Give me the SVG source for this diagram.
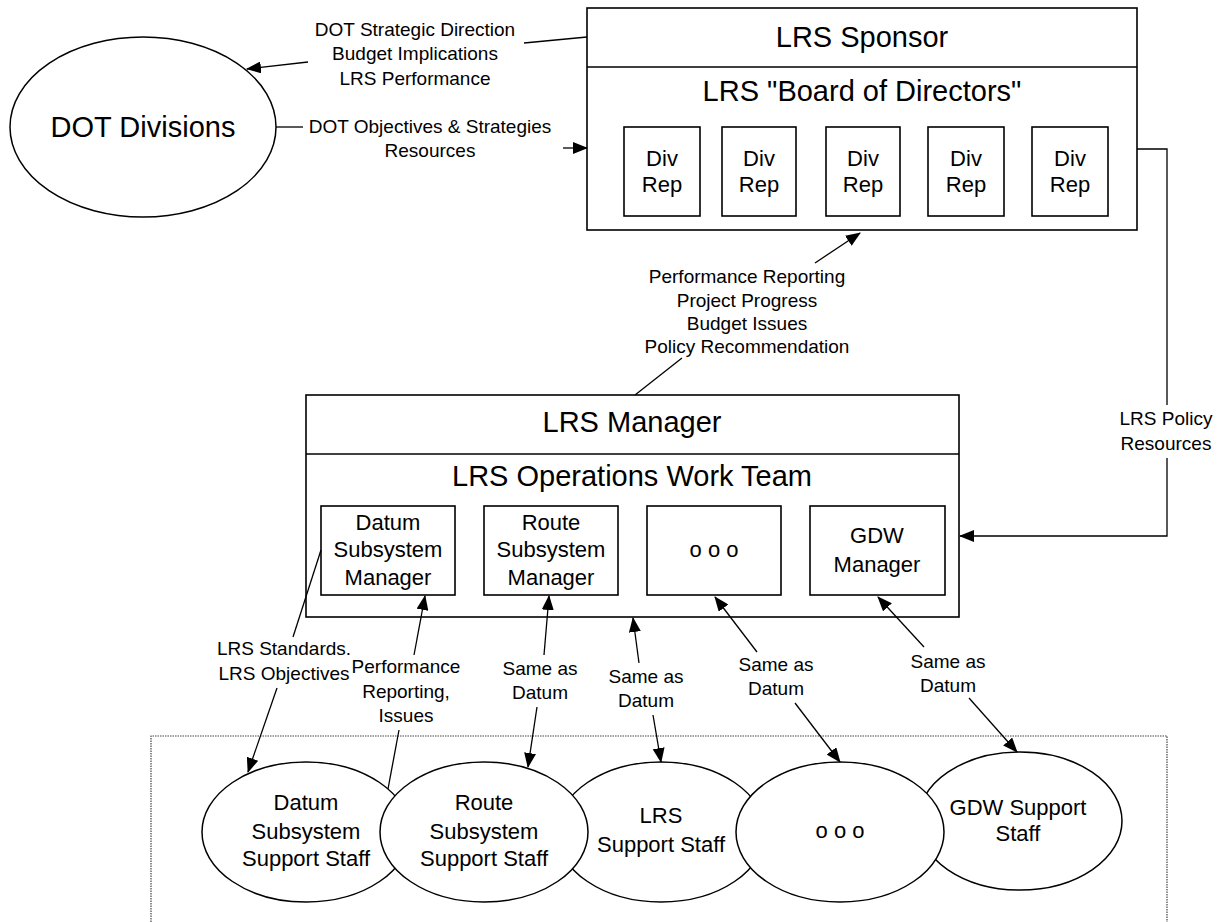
<svg xmlns="http://www.w3.org/2000/svg" width="1220" height="922" viewBox="0 0 1220 922">
<defs>
<marker id="ah" markerUnits="userSpaceOnUse" markerWidth="15" markerHeight="12" viewBox="0 0 15 12" refX="14" refY="6" orient="auto">
<path d="M0,0 L15,6 L0,12 z" fill="#000"/>
</marker>
<style>
text{font-family:"Liberation Sans",Arial,sans-serif;fill:#000;text-anchor:middle}
.t{font-size:29px}
.s{font-size:22px}
.l{font-size:19px}
.box{fill:#fff;stroke:#000;stroke-width:1.6}
.ell{fill:#fff;stroke:#000;stroke-width:1.5}
.c{fill:none;stroke:#000;stroke-width:1.3}
.a{fill:none;stroke:#000;stroke-width:1.3;marker-end:url(#ah)}
.dot{fill:none;stroke:#444;stroke-width:1.2;stroke-dasharray:1.5 1}
</style>
</defs>
<rect width="1220" height="922" fill="#fff"/>

<g id="support-area">
<path class="dot" d="M151,922 V736 H1167 V922"/>
</g>

<g id="dot-divisions">
<ellipse class="ell" cx="143" cy="127" rx="133" ry="90"/>
<text class="t" x="143" y="137">DOT Divisions</text>
</g>

<g id="lrs-sponsor">
<rect class="box" x="587" y="8" width="550" height="222"/>
<line x1="587" y1="67" x2="1137" y2="67" stroke="#000" stroke-width="1.6"/>
<text class="t" x="862" y="47">LRS Sponsor</text>
<text class="t" x="862" y="101">LRS "Board of Directors"</text>
</g>
<g id="div-rep-1"><rect class="box" x="624" y="127" width="76" height="89"/><text class="s" x="662" y="166">Div</text><text class="s" x="662" y="192">Rep</text></g>
<g id="div-rep-2"><rect class="box" x="722" y="127" width="74" height="89"/><text class="s" x="759" y="166">Div</text><text class="s" x="759" y="192">Rep</text></g>
<g id="div-rep-3"><rect class="box" x="826" y="127" width="74" height="89"/><text class="s" x="863" y="166">Div</text><text class="s" x="863" y="192">Rep</text></g>
<g id="div-rep-4"><rect class="box" x="928" y="127" width="76" height="89"/><text class="s" x="966" y="166">Div</text><text class="s" x="966" y="192">Rep</text></g>
<g id="div-rep-5"><rect class="box" x="1032" y="127" width="76" height="89"/><text class="s" x="1070" y="166">Div</text><text class="s" x="1070" y="192">Rep</text></g>

<g id="lrs-manager">
<rect class="box" x="306" y="395" width="653" height="222"/>
<line x1="306" y1="454" x2="959" y2="454" stroke="#000" stroke-width="1.6"/>
<text class="t" x="632" y="432">LRS Manager</text>
<text class="t" x="632" y="486">LRS Operations Work Team</text>
</g>
<g id="datum-manager"><rect class="box" x="321" y="506" width="134" height="89"/>
<text class="s" x="388" y="530">Datum</text><text class="s" x="388" y="557">Subsystem</text><text class="s" x="388" y="585">Manager</text></g>
<g id="route-manager"><rect class="box" x="484" y="506" width="134" height="89"/>
<text class="s" x="551" y="530">Route</text><text class="s" x="551" y="557">Subsystem</text><text class="s" x="551" y="585">Manager</text></g>
<g id="other-manager"><rect class="box" x="647" y="506" width="134" height="89"/>
<text class="s" x="714" y="557">o o o</text></g>
<g id="gdw-manager"><rect class="box" x="810" y="506" width="135" height="89"/>
<text class="s" x="877" y="543">GDW</text><text class="s" x="877" y="572">Manager</text></g>

<g id="datum-staff"><ellipse class="ell" cx="306" cy="832" rx="104" ry="70"/>
<text class="s" x="306" y="810">Datum</text><text class="s" x="306" y="839">Subsystem</text><text class="s" x="306" y="866">Support Staff</text></g>
<g id="lrs-staff"><ellipse class="ell" cx="661" cy="832" rx="104" ry="70"/>
<text class="s" x="661" y="823">LRS</text><text class="s" x="661" y="852">Support Staff</text></g>
<g id="gdw-staff"><ellipse class="ell" cx="1020" cy="821" rx="102" ry="69"/>
<text class="s" x="1018" y="815">GDW Support</text><text class="s" x="1018" y="841">Staff</text></g>
<g id="route-staff"><ellipse class="ell" cx="484" cy="832" rx="104" ry="70"/>
<text class="s" x="484" y="810">Route</text><text class="s" x="484" y="839">Subsystem</text><text class="s" x="484" y="866">Support Staff</text></g>
<g id="other-staff"><ellipse class="ell" cx="840" cy="832" rx="104" ry="70"/>
<text class="s" x="840" y="838">o o o</text></g>

<g id="connectors">
<line class="c" x1="524" y1="43" x2="587" y2="37"/>
<line class="a" x1="308" y1="62" x2="247" y2="69"/>
<line class="c" x1="276" y1="127" x2="303" y2="127"/>
<line class="a" x1="563" y1="148" x2="587" y2="148"/>
<line class="a" x1="815" y1="263" x2="860" y2="233"/>
<line class="c" x1="682" y1="358" x2="635" y2="395"/>
<polyline class="c" points="1137,149 1167,149 1167,405"/>
<polyline class="a" points="1167,458 1167,536 960,536"/>
<line class="c" x1="321" y1="550" x2="293" y2="637"/>
<line class="a" x1="277" y1="688" x2="248" y2="772"/>
<line class="a" x1="414" y1="655" x2="425" y2="596"/>
<line class="c" x1="399" y1="730" x2="388" y2="789"/>
<line class="a" x1="544" y1="655" x2="549" y2="596"/>
<line class="a" x1="537" y1="707" x2="528" y2="767"/>
<line class="a" x1="639" y1="663" x2="633" y2="618"/>
<line class="a" x1="653" y1="715" x2="661" y2="762"/>
<line class="a" x1="757" y1="652" x2="715" y2="597"/>
<line class="a" x1="795" y1="703" x2="840" y2="762"/>
<line class="a" x1="924" y1="647" x2="878" y2="597"/>
<line class="a" x1="969" y1="698" x2="1017" y2="752"/>
</g>

<g id="labels">
<text class="l" x="415" y="36">DOT Strategic Direction</text>
<text class="l" x="415" y="60">Budget Implications</text>
<text class="l" x="415" y="85">LRS Performance</text>
<text class="l" x="430" y="133">DOT Objectives &amp; Strategies</text>
<text class="l" x="430" y="157">Resources</text>
<text class="l" x="747" y="283">Performance Reporting</text>
<text class="l" x="747" y="307">Project Progress</text>
<text class="l" x="747" y="330">Budget Issues</text>
<text class="l" x="747" y="353">Policy Recommendation</text>
<text class="l" x="1166" y="425">LRS Policy</text>
<text class="l" x="1166" y="450">Resources</text>
<text class="l" x="284" y="655">LRS Standards.</text>
<text class="l" x="284" y="680">LRS Objectives</text>
<text class="l" x="406" y="673">Performance</text>
<text class="l" x="406" y="698">Reporting,</text>
<text class="l" x="406" y="722">Issues</text>
<text class="l" x="540" y="675">Same as</text>
<text class="l" x="540" y="699">Datum</text>
<text class="l" x="646" y="683">Same as</text>
<text class="l" x="646" y="707">Datum</text>
<text class="l" x="776" y="671">Same as</text>
<text class="l" x="776" y="695">Datum</text>
<text class="l" x="948" y="668">Same as</text>
<text class="l" x="948" y="692">Datum</text>
</g>
</svg>
